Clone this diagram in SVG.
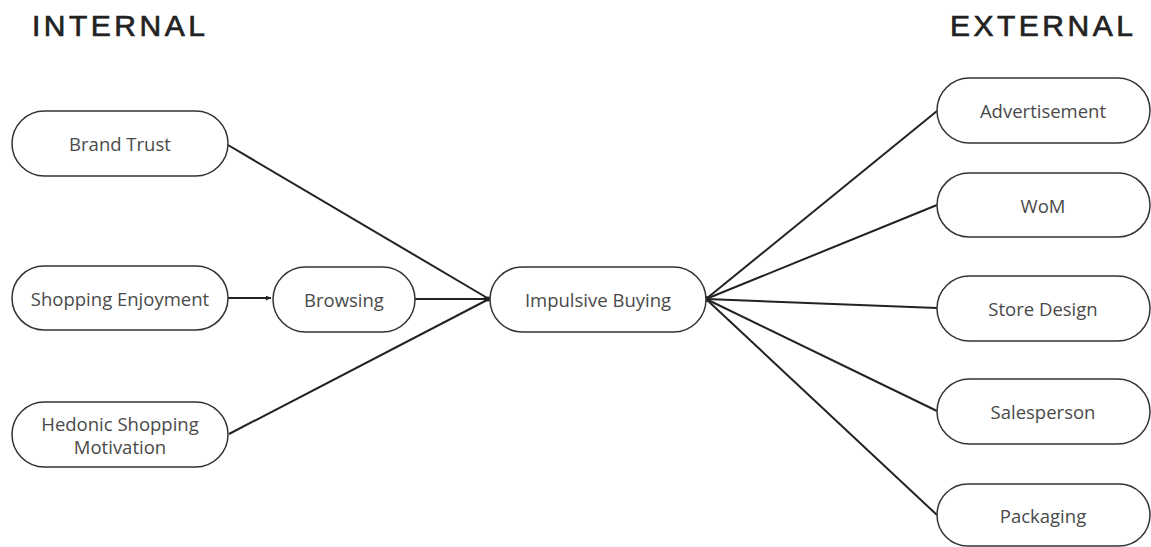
<svg xmlns="http://www.w3.org/2000/svg" width="1151" height="547" viewBox="0 0 1151 547">
<style>
.node rect{fill:#fff;stroke:#333;stroke-width:1.5}
.node text{font-family:"Open Sans","Noto Sans",sans-serif;font-size:18.5px;fill:#4a4a4a;text-anchor:middle;dominant-baseline:central}
.title{font-family:"Liberation Sans",Arial,sans-serif;font-size:30px;fill:#222;stroke:#222;stroke-width:0.7;letter-spacing:3.5px}
.conn line{stroke:#222;stroke-width:2}
</style>
<defs>
<marker id="ah" viewBox="0 0 10 10" refX="10" refY="5" markerWidth="5" markerHeight="5" orient="auto" markerUnits="userSpaceOnUse"><path d="M0,0 L10,5 L0,10 z" fill="#222"/></marker>
</defs>
<rect width="1151" height="547" fill="#fff"/>
<text class="title" x="32" y="36">INTERNAL</text>
<text class="title" x="950" y="36">EXTERNAL</text>
<g class="conn">
<line x1="228" y1="145" x2="489" y2="299"/>
<line x1="228" y1="298" x2="271" y2="298" marker-end="url(#ah)"/>
<line x1="415" y1="299" x2="489" y2="299" marker-end="url(#ah)"/>
<line x1="229" y1="434" x2="489" y2="299"/>
<line x1="706" y1="299" x2="937" y2="111"/>
<line x1="706" y1="299" x2="937" y2="205"/>
<line x1="706" y1="299" x2="937" y2="308"/>
<line x1="706" y1="299" x2="937" y2="411"/>
<line x1="706" y1="299" x2="937" y2="515"/>
<circle cx="706" cy="299" r="3" fill="#222"/>
<circle cx="488" cy="299" r="2.5" fill="#222"/>
</g>
<g id="brand-trust" class="node"><rect x="12" y="111" width="216" height="65" rx="32.5"/><text x="120" y="143.5">Brand Trust</text></g>
<g id="shopping-enjoyment" class="node"><rect x="12" y="266" width="216" height="64" rx="32"/><text x="120" y="298">Shopping Enjoyment</text></g>
<g id="browsing" class="node"><rect x="273" y="267" width="142" height="65" rx="32.5"/><text x="344" y="299.5">Browsing</text></g>
<g id="hedonic" class="node"><rect x="12" y="402" width="216" height="65" rx="32.5"/><text x="120" y="423">Hedonic Shopping</text><text x="120" y="446">Motivation</text></g>
<g id="impulsive-buying" class="node"><rect x="490" y="267" width="216" height="65" rx="32.5"/><text x="598" y="299.5">Impulsive Buying</text></g>
<g id="advertisement" class="node"><rect x="937" y="78" width="213" height="65" rx="32.5"/><text x="1043" y="110.5">Advertisement</text></g>
<g id="wom" class="node"><rect x="937" y="173" width="213" height="64" rx="32"/><text x="1043" y="205">WoM</text></g>
<g id="store-design" class="node"><rect x="937" y="276" width="213" height="65" rx="32.5"/><text x="1043" y="308.5">Store Design</text></g>
<g id="salesperson" class="node"><rect x="937" y="379" width="213" height="65" rx="32.5"/><text x="1043" y="411.5">Salesperson</text></g>
<g id="packaging" class="node"><rect x="937" y="484" width="213" height="62" rx="31"/><text x="1043" y="515.5">Packaging</text></g>
</svg>
